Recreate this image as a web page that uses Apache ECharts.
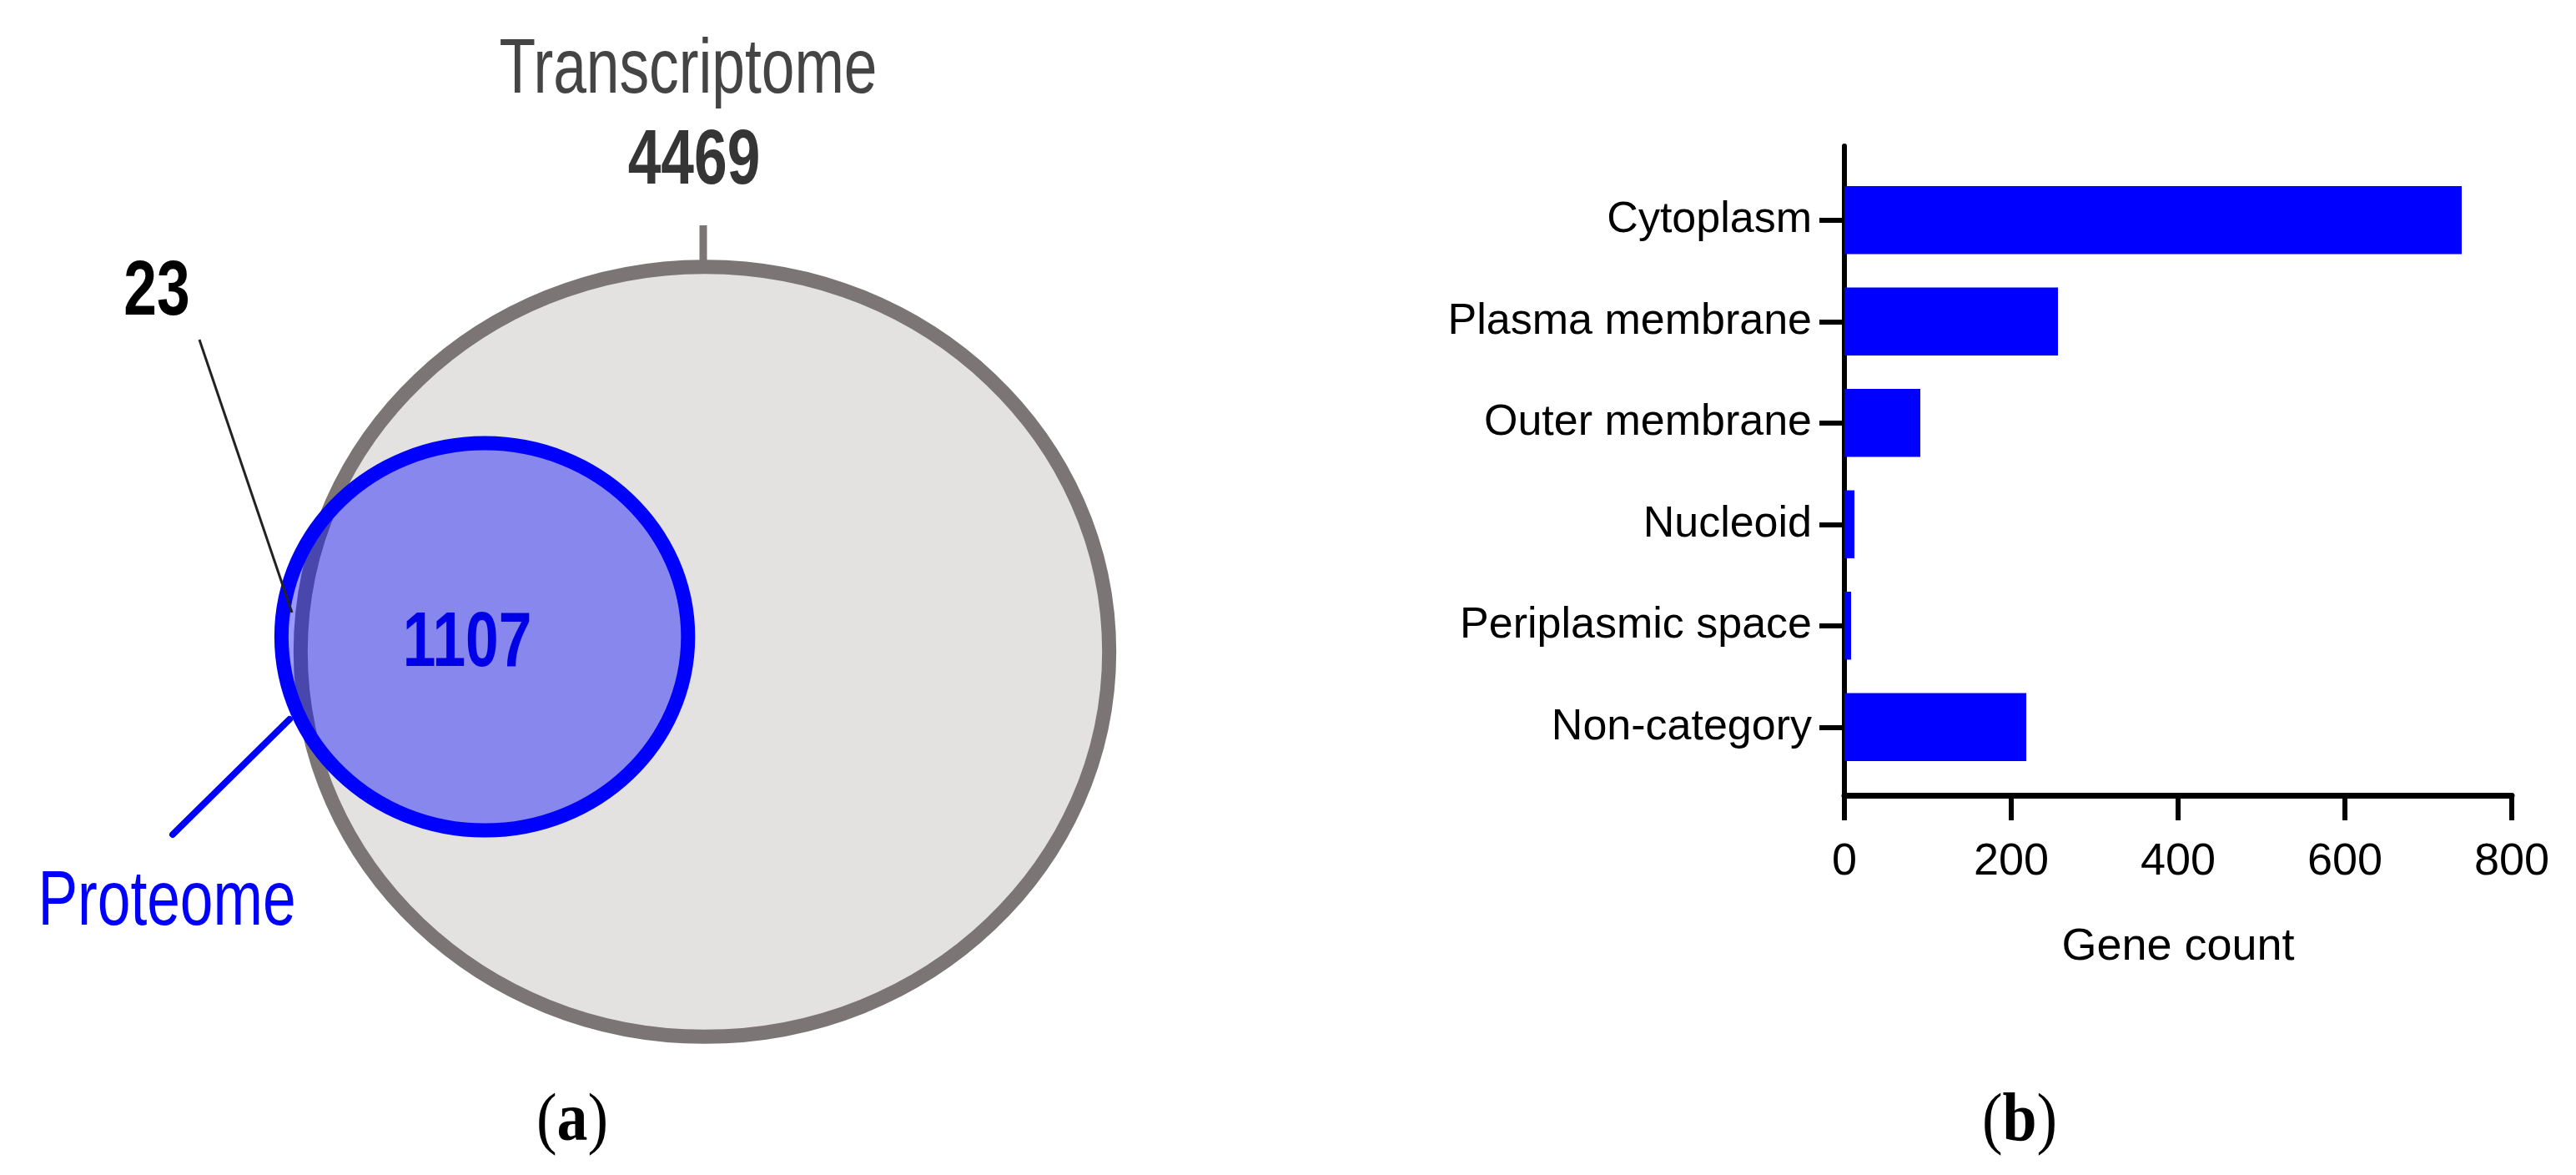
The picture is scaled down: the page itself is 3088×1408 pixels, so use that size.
<!DOCTYPE html>
<html>
<head>
<meta charset="utf-8">
<title>Transcriptome / Proteome</title>
<script src="https://cdn.jsdelivr.net/npm/echarts@6/dist/echarts.min.js"></script>
<style>
html, body { margin: 0; padding: 0; background: #fff; }
#main { width: 3088px; height: 1408px; }
</style>
</head>
<body>
<div id="main"></div>
<script>
// (a) venn counts
var vennSets = ['Transcriptome', 'Proteome'];
var transcriptomeCount = [4469];
var overlapCount = [1107];
var proteomeOnlyCount = [23];

// (b) subcellular location
var categories = ['Cytoplasm', 'Plasma membrane', 'Outer membrane', 'Nucleoid', 'Periplasmic space', 'Non-category'];
var geneCounts = [740, 256, 91, 12, 8, 218];
var xTicks = [0, 200, 400, 600, 800];

var sans = "'Liberation Sans', Arial, sans-serif";
var serif = "'Liberation Serif', 'Times New Roman', serif";

var myChart = echarts.init(document.getElementById('main'));

// circle sizes come from sqrt(set size); centres are layout in the same units
var vennSizes = [transcriptomeCount[0], overlapCount[0] + proteomeOnlyCount[0]];
var vennLayout = [[0, 0], [-36.4, 2.6]];
var vennData = vennSets.map(function (name, i) {
    return {name: name, value: [vennLayout[i][0], vennLayout[i][1], vennSizes[i]]};
});
var vennStyles = [
    {fill: '#e3e2e1', stroke: '#7b7575', lineWidth: 17},
    {fill: 'rgba(0,0,255,0.4)', stroke: '#0000ff', lineWidth: 17}
];

// narrow-looking labels: arial-metric font squeezed horizontally
function txt(x, y, text, color, weight) {
    return {
        type: 'text', x: x, y: y, z: 100, scaleX: 0.775,
        style: {
            text: text, fontSize: 92, fontFamily: sans, fontWeight: weight || 'normal',
            fill: color, align: 'center', verticalAlign: 'middle'
        }
    };
}
function panelTag(x, letter) {
    return {
        type: 'text', x: x, y: 1345, z: 100, scaleX: 0.9,
        style: {
            text: '{p|(}{b|' + letter + '}{p|)}',
            align: 'center', verticalAlign: 'middle',
            rich: {
                p: {fontSize: 82, fontFamily: serif, fill: '#000'},
                b: {fontSize: 82, fontFamily: serif, fontWeight: 'bold', fill: '#000'}
            }
        }
    };
}

var option = {
    backgroundColor: '#fff',
    animation: false,
    grid: [
        {left: 0, top: 0, width: 1700, height: 1408, outerBoundsMode: 'none'},
        {left: 2211, top: 175, width: 800, height: 778, outerBoundsMode: 'none'},
        {left: 2211, top: 203, width: 800, height: 729, outerBoundsMode: 'none'}
    ],
    xAxis: [
        {gridIndex: 0, type: 'value', min: -116.55, max: 117.93, show: false},
        {
            gridIndex: 1, type: 'value', min: 0, max: 800, interval: 200,
            axisLine: {show: true, onZero: false, lineStyle: {color: '#000', width: 7}},
            axisTick: {show: true, length: 30, lineStyle: {color: '#000', width: 6}},
            axisLabel: {
                margin: 53, fontSize: 54, fontFamily: sans, color: '#000',
                formatter: function (v) { return xTicks.indexOf(v) >= 0 ? String(v) : ''; }
            },
            splitLine: {show: false},
            name: 'Gene count', nameLocation: 'middle', nameGap: 155,
            nameTextStyle: {fontSize: 54, fontFamily: sans, color: '#000'}
        },
        {gridIndex: 2, type: 'value', min: 0, max: 800, show: false}
    ],
    yAxis: [
        {gridIndex: 0, type: 'value', min: -90.87, max: 113.19, show: false},
        {
            gridIndex: 1, type: 'value', min: 0, max: 1,
            axisLine: {show: true, onZero: false, lineStyle: {color: '#000', width: 6}},
            axisTick: {show: false}, axisLabel: {show: false}, splitLine: {show: false}
        },
        {
            gridIndex: 2, type: 'category', inverse: true, data: categories,
            axisLine: {show: false},
            axisTick: {show: true, alignWithLabel: true, length: 30, lineStyle: {color: '#000', width: 6}},
            axisLabel: {margin: 39, fontSize: 52, fontFamily: sans, color: '#000'}
        }
    ],
    series: [
        {
            type: 'custom',
            xAxisIndex: 0, yAxisIndex: 0,
            data: vennData,
            renderItem: function (params, api) {
                var c = api.coord([api.value(0), api.value(1)]);
                var r = Math.sqrt(api.value(2));
                var s = api.size([r, r]);
                return {
                    type: 'ellipse',
                    shape: {cx: c[0], cy: c[1], rx: s[0], ry: s[1]},
                    style: vennStyles[params.dataIndex]
                };
            }
        },
        {
            type: 'bar',
            xAxisIndex: 2, yAxisIndex: 2,
            data: geneCounts,
            barCategoryGap: '33%',
            itemStyle: {color: '#0000ff'}
        }
    ],
    graphic: [
        // transcriptome pointer + labels
        {type: 'line', z: 100, shape: {x1: 843, y1: 322, x2: 843, y2: 270}, style: {stroke: '#7b7575', lineWidth: 9}},
        txt(825, 86, vennSets[0], '#444'),
        txt(832, 195, String(transcriptomeCount[0]), '#353535', 'bold'),
        // proteome-only count
        {type: 'line', z: 100, shape: {x1: 239, y1: 407, x2: 350, y2: 734}, style: {stroke: '#222', lineWidth: 3}},
        txt(188, 352, String(proteomeOnlyCount[0]), '#000', 'bold'),
        // overlap
        txt(560, 773, String(overlapCount[0]), '#0000e6', 'bold'),
        // proteome pointer + label
        {type: 'line', z: 100, shape: {x1: 207, y1: 1000, x2: 347, y2: 862}, style: {stroke: '#0000ff', lineWidth: 8, lineCap: 'round'}},
        txt(200, 1083, vennSets[1], '#0000ff'),
        panelTag(686, 'a'),
        panelTag(2421, 'b')
    ]
};

myChart.setOption(option);
window.addEventListener('resize', function () {
    myChart.resize();
});
</script>
</body>
</html>
